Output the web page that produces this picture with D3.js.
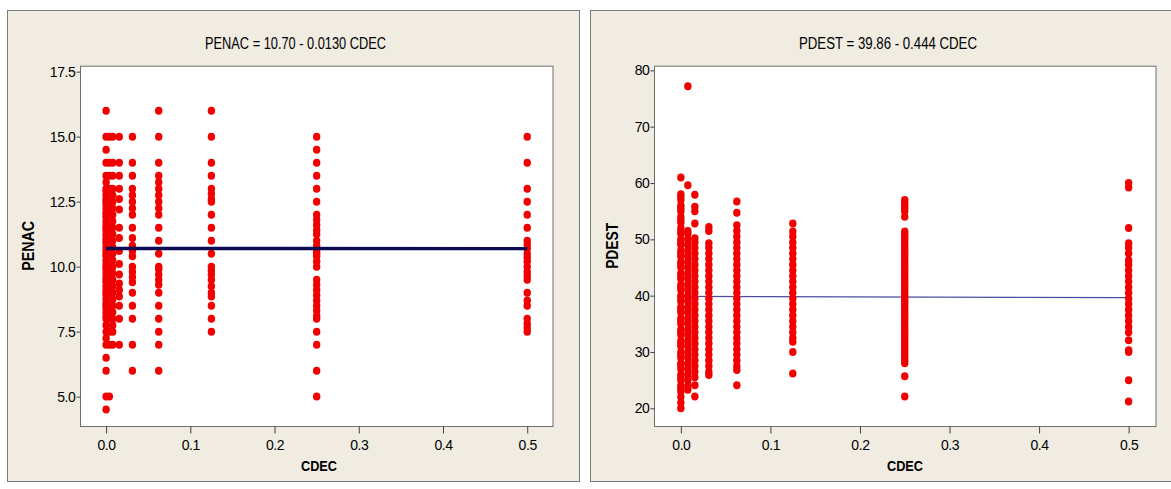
<!DOCTYPE html>
<html>
<head>
<meta charset="utf-8">
<script src="https://cdn.jsdelivr.net/npm/d3@7"></script>
<style>
  html, body { margin: 0; padding: 0; background: #ffffff; }
  svg { display: block; }
  text { font-family: "Liberation Sans", Arial, sans-serif; fill: #000; }
</style>
</head>
<body>
<svg id="chart" width="1171" height="489"></svg>
<script>
// ---------------- DATA ----------------
const cdecLevels = [0, 0.00390625, 0.0078125, 0.015625, 0.03125, 0.0625, 0.125, 0.25, 0.5];
const xTicks = [0, 0.1, 0.2, 0.3, 0.4, 0.5];
const penacTicks = [5, 7.5, 10, 12.5, 15, 17.5];
const pdestTicks = [20, 30, 40, 50, 60, 70, 80];

const penacTitle = "PENAC = 10.70 - 0.0130 CDEC";
const pdestTitle = "PDEST = 39.86 - 0.444 CDEC";
const penacFit = [10.70, -0.0130];
const pdestFit = [39.86, -0.444];

// PENAC values, one list per CDEC level (same order as cdecLevels)
const penacL0 = [16, 15, 14.5, 14, 13.5, 13.25, 13, 12.9, 12.75, 12.6, 12.5, 12.4, 12.25, 12.1, 12, 11.9, 11.75, 11.6, 11.5, 11.4, 11.25, 11.1, 11, 10.9, 10.75, 10.6, 10.5, 10.4, 10.25, 10.1, 10, 9.9, 9.75, 9.6, 9.5, 9.4, 9.25, 9.1, 9, 8.9, 8.75, 8.6, 8.5, 8.4, 8.25, 8.1, 8, 7.75, 7.5, 7.25, 7, 6.5, 6, 5, 4.5];
const penacL1 = [15, 14, 13.5, 13, 12.5, 12, 11.5, 11, 10.5, 10, 9.5, 9, 8.5, 8, 7.5, 7, 5];
const penacL2 = [15, 14, 13.5, 13, 12.75, 12.5, 12.25, 12, 11.75, 11.5, 11.25, 11, 10.75, 10.5, 10.25, 10, 9.75, 9.5, 9.25, 9, 8.75, 8.5, 8.25, 8, 7.75, 7.5, 7];
const penacL3 = [15, 14, 13.5, 13, 12.6, 12.2, 11.5, 11.1, 10.6, 10.1, 9.7, 9.35, 9.1, 8.85, 8.5, 8, 7];
const penacL4 = [15, 14, 13.5, 13, 12.75, 12.5, 12.25, 12, 11.5, 11.1, 10.8, 10.6, 10.4, 10, 9.8, 9.6, 9.4, 9, 8.5, 8, 7, 6];
const penacL5 = [16, 15, 14, 13.5, 13.25, 13, 12.75, 12.5, 12.25, 12, 11.5, 11, 10.5, 10, 9.9, 9.7, 9.5, 9.3, 9, 8.5, 8, 7.5, 7, 6];
const penacL6 = [16, 15, 14, 13.5, 13, 12.8, 12.6, 12.5, 12, 11.5, 11, 10.5, 10, 9.85, 9.7, 9.5, 9.25, 9, 8.85, 8.5, 8, 7.5];
const penacL7 = [15, 14.5, 14, 13.5, 13, 12.5, 12, 11.8, 11.6, 11.4, 11.25, 11, 10.8, 10.6, 10.5, 10.4, 10.2, 10, 9.5, 9.3, 9.1, 8.9, 8.7, 8.5, 8.3, 8.1, 8, 7.5, 7, 6, 5];
const penacL8 = [15, 14, 13, 12.5, 12, 11.5, 11, 10.85, 10.7, 10.5, 10.35, 10.2, 10, 9.8, 9.65, 9.5, 9, 8.7, 8.5, 8, 7.8, 7.65, 7.5];
const penacByLevel = [penacL0, penacL1, penacL2, penacL3, penacL4, penacL5, penacL6, penacL7, penacL8];

// PDEST values, one list per CDEC level
const pdestL0 = [61, 58, 57.5, 57, 56, 55.5, 55, 54, 53.5, 53, 52, 51.5, 51, 50, 49.5, 49, 48, 47.5, 47, 46, 45.5, 45, 44, 43.5, 43, 42, 41.5, 41, 40, 39.5, 39, 38, 37.5, 37, 36, 35.5, 35, 34, 33.5, 33, 32, 31.5, 31, 30, 29.5, 29, 28, 27.5, 27, 26, 25.5, 25, 24, 23.5, 23, 22, 21, 20];
const pdestL1 = [];
const pdestL2 = [77.2, 59.6, 51.5, 51, 50, 49, 48, 47, 46, 45, 44, 43, 42, 41, 40, 39, 38, 37, 36, 35, 34, 33, 32, 31, 30, 29, 28, 27, 26, 25, 24, 23.3];
const pdestL3 = [57.9, 55.8, 55, 52.8, 50.2, 49.5, 48.5, 47.5, 46.5, 45.5, 44.5, 43.5, 42.5, 41.5, 40.5, 39.5, 38.5, 37.5, 36.5, 35.5, 34.5, 33.5, 32.5, 31.5, 30.5, 29.5, 28.5, 27.5, 26.5, 25.5, 24.1, 22.1];
const pdestL4 = [52.2, 51.5, 49.3, 48.5, 47.5, 46.5, 45.5, 44.5, 43.5, 42.5, 41.5, 40.5, 39.5, 38.5, 37.5, 36.5, 35.5, 34.5, 33.5, 32.5, 31.5, 30.5, 29.5, 28.5, 27.5, 26.5, 25.9];
const pdestL5 = [56.7, 54.7, 52.5, 51.5, 50.5, 49.5, 48.5, 47.5, 46.5, 45.5, 44.5, 43.5, 42.5, 41.5, 40.5, 39.5, 38.5, 37.5, 36.5, 35.5, 34.5, 33.5, 32.5, 31.5, 30.5, 29.5, 28.5, 27.5, 26.8, 24.1];
const pdestL6 = [52.8, 51.4, 50.5, 49.5, 48.5, 47.5, 46.5, 45.5, 44.5, 43.5, 42.5, 41.5, 40.5, 39.5, 38.5, 37.5, 36.5, 35.5, 34.5, 33.5, 32.5, 31.8, 30, 26.2];
const pdestL7 = [57, 56.5, 56, 55.5, 55, 54, 51.4, 51, 50.5, 50, 49.5, 49, 48.5, 48, 47.5, 47, 46.5, 46, 45.5, 45, 44.5, 44, 43.5, 43, 42.5, 42, 41.5, 41, 40.5, 40, 39.5, 39, 38.5, 38, 37.5, 37, 36.5, 36, 35.5, 35, 34.5, 34, 33.5, 33, 32.5, 32, 31.5, 31, 30.5, 30, 29.5, 29, 28.5, 28, 25.7, 22.1];
const pdestL8 = [60, 59.2, 52, 49.3, 48.5, 47.5, 46.3, 45.5, 44.5, 43.5, 42.5, 41.5, 40.5, 39.5, 38.5, 37.5, 36.5, 35.5, 34.5, 33.5, 32.1, 30.3, 30, 25, 21.2];
const pdestByLevel = [pdestL0, pdestL1, pdestL2, pdestL3, pdestL4, pdestL5, pdestL6, pdestL7, pdestL8];

// ---------------- DRAW ----------------
const svg = d3.select("#chart");
const RED = "#f00000";

function toPoints(byLevel) {
  const pts = [];
  byLevel.forEach((vals, i) => vals.forEach(v => pts.push({ x: cdecLevels[i], y: v })));
  return pts;
}

function panel(cfg) {
  svg.append("rect")
    .attr("x", cfg.frame[0] + 0.5).attr("y", cfg.frame[1] + 0.5)
    .attr("width", cfg.frame[2]).attr("height", cfg.frame[3])
    .attr("fill", "#f0ece2").attr("stroke", "#7a7a7a").attr("stroke-width", 1);

  const x = d3.scaleLinear().domain(cfg.xDomain).range([cfg.plot[0], cfg.plot[1]]);
  const y = d3.scaleLinear().domain(cfg.yDomain).range([cfg.plot[3], cfg.plot[2]]);

  svg.append("rect")
    .attr("x", cfg.plot[0] + 0.5).attr("y", cfg.plot[2] + 0.5)
    .attr("width", cfg.plot[1] - cfg.plot[0]).attr("height", cfg.plot[3] - cfg.plot[2])
    .attr("fill", "#ffffff").attr("stroke", "#6e6e6e").attr("stroke-width", 1);

  const gx = svg.append("g").attr("transform", `translate(0,${cfg.plot[3] + 0.5})`)
    .call(d3.axisBottom(x).tickValues(xTicks).tickFormat(d3.format(".1f")).tickSize(7).tickPadding(7));
  const gy = svg.append("g").attr("transform", `translate(${cfg.plot[0] + 0.5},0)`)
    .call(d3.axisLeft(y).tickValues(cfg.yTicks).tickFormat(cfg.yFormat).tickSize(4).tickPadding(1));
  [gx, gy].forEach(g => {
    g.select(".domain").remove();
    g.selectAll(".tick line").attr("stroke", "#444");
    g.selectAll(".tick text").attr("font-size", 14).attr("fill", "#000")
      .attr("font-family", "'Liberation Sans', Arial, sans-serif").attr("letter-spacing", "-0.4px");
  });

  const pts = toPoints(cfg.byLevel);
  const fitLine = () => {
    const xs = [d3.min(cdecLevels), d3.max(cdecLevels)];
    svg.append("line")
      .attr("x1", x(xs[0])).attr("x2", x(xs[1]))
      .attr("y1", y(cfg.fit[0] + cfg.fit[1] * xs[0]))
      .attr("y2", y(cfg.fit[0] + cfg.fit[1] * xs[1]))
      .attr("stroke", cfg.lineColor).attr("stroke-width", cfg.lineWidth);
  };
  if (!cfg.lineOnTop) fitLine();
  svg.append("g").selectAll("ellipse").data(pts).join("ellipse")
    .attr("cx", d => x(d.x)).attr("cy", d => y(d.y)).attr("rx", 3.7).attr("ry", 4)
    .attr("fill", RED);
  if (cfg.lineOnTop) fitLine();

  svg.append("text").attr("x", cfg.titleX).attr("y", 49)
    .attr("text-anchor", "middle").attr("font-size", 16)
    .attr("textLength", cfg.titleLen).attr("lengthAdjust", "spacingAndGlyphs")
    .text(cfg.title);
  svg.append("text").attr("x", cfg.xLabelX).attr("y", 470.5)
    .attr("text-anchor", "middle").attr("font-size", 15).attr("font-weight", "bold")
    .attr("textLength", 36).attr("lengthAdjust", "spacingAndGlyphs")
    .text("CDEC");
  const cy = (cfg.plot[2] + cfg.plot[3]) / 2;
  svg.append("text")
    .attr("transform", `translate(${cfg.yLabelX},${cy}) rotate(-90)`)
    .attr("text-anchor", "middle").attr("font-size", 17).attr("font-weight", "bold")
    .attr("textLength", cfg.yLabelLen).attr("lengthAdjust", "spacingAndGlyphs")
    .text(cfg.yLabel);
}

panel({
  frame: [7, 10, 572, 471],
  plot: [80, 552.5, 65.7, 426],
  xDomain: [-0.031, 0.530],
  yDomain: [3.87, 17.73],
  yTicks: penacTicks,
  yFormat: d3.format(".1f"),
  byLevel: penacByLevel,
  fit: penacFit,
  lineColor: "#0b0b55", lineWidth: 3.4, lineOnTop: true,
  title: penacTitle, titleX: 295.5, titleLen: 181,
  xLabelX: 319,
  yLabel: "PENAC", yLabelX: 34, yLabelLen: 50
});

panel({
  frame: [590, 10, 600, 471],
  plot: [654, 1155.5, 65.7, 426],
  xDomain: [-0.030, 0.530],
  yDomain: [16.86, 80.83],
  yTicks: pdestTicks,
  yFormat: d3.format("d"),
  byLevel: pdestByLevel,
  fit: pdestFit,
  lineColor: "#4b4ba3", lineWidth: 1.2, lineOnTop: false,
  title: pdestTitle, titleX: 888, titleLen: 178,
  xLabelX: 905,
  yLabel: "PDEST", yLabelX: 618, yLabelLen: 46
});
</script>
</body>
</html>
